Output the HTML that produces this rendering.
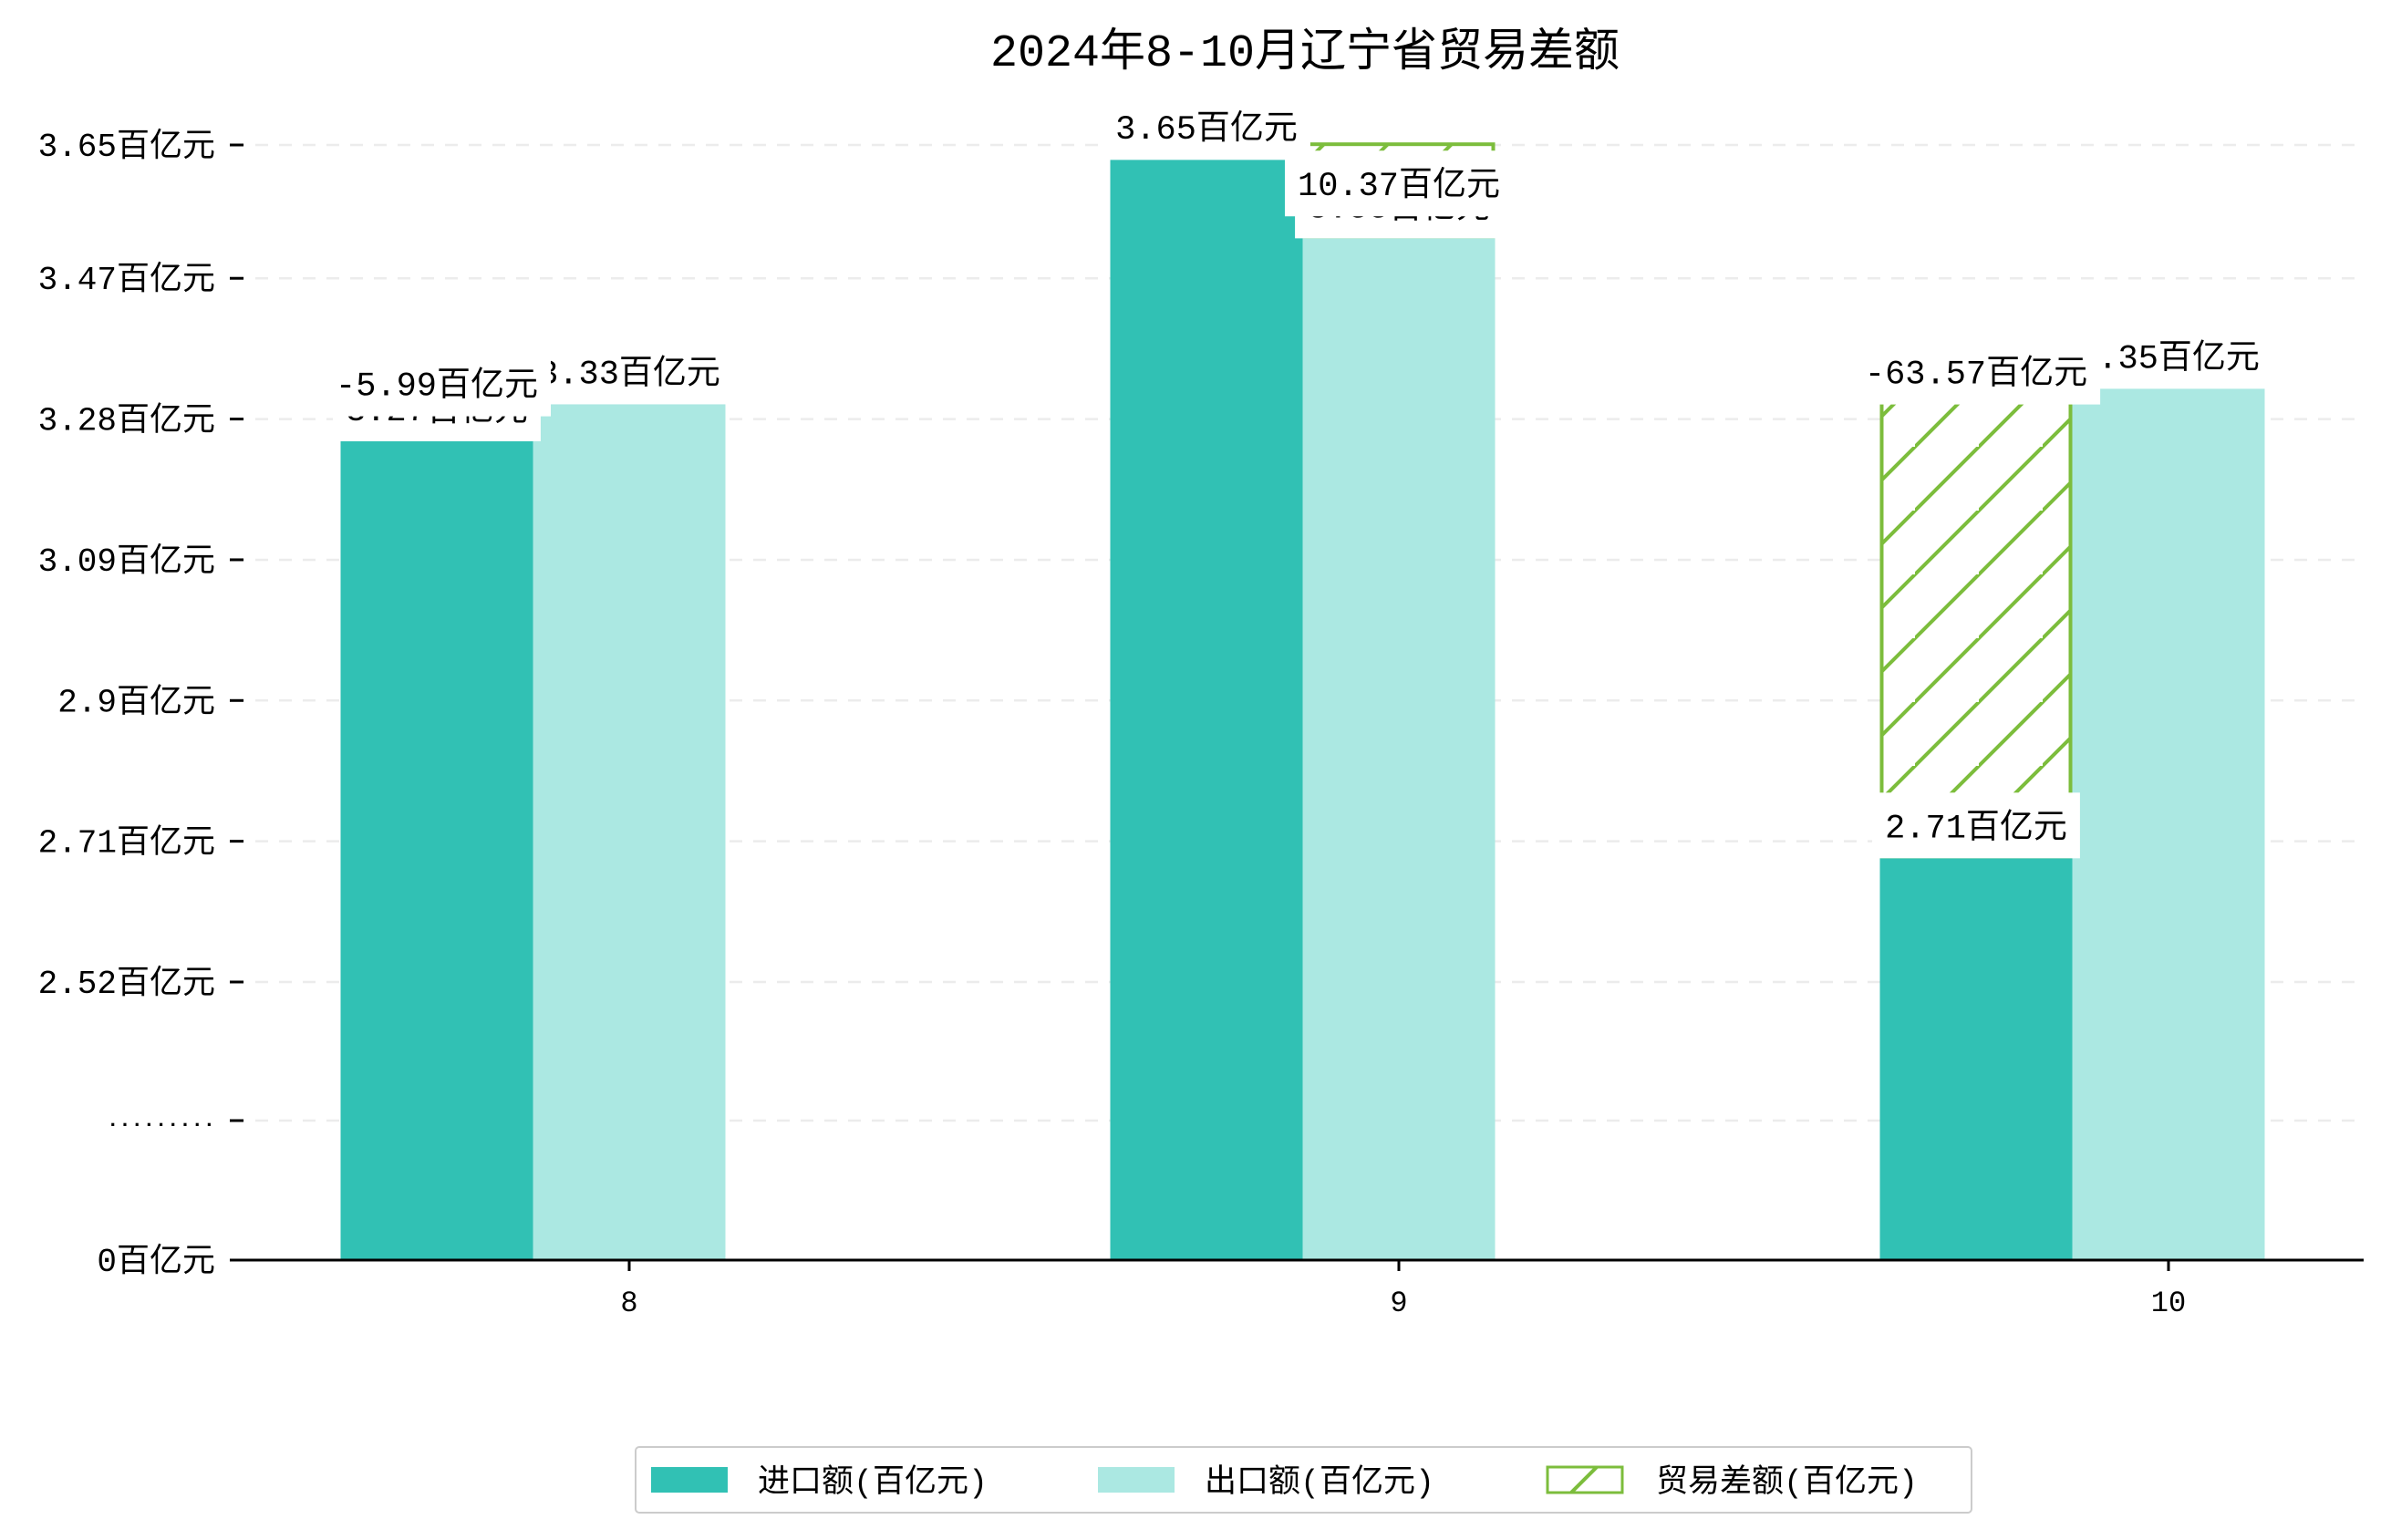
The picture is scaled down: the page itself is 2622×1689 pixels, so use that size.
<!DOCTYPE html>
<html><head><meta charset="utf-8"><style>
html,body{margin:0;padding:0;background:#fff;}
svg{display:block;}
text{font-family:"Liberation Mono","Noto Sans CJK SC",monospace;}
</style></head><body>
<svg id="chart" width="2622" height="1689" viewBox="0 0 2622 1689" xmlns="http://www.w3.org/2000/svg">
<defs>
<pattern id="hatch" patternUnits="userSpaceOnUse" width="70" height="70">
<rect width="70" height="70" fill="#fff"/>
<path d="M-10,80 L80,-10 M-80,80 L10,-10 M60,150 L150,60" stroke="#7cbd3c" stroke-width="4"/>
</pattern>
</defs>
<text x="1431" y="72" text-anchor="middle" font-size="50" fill="#000">2024年8-10月辽宁省贸易差额</text>
<g id="grid"></g><g id="bars"></g><g id="labels"></g><g id="axes"></g>
<g>
<rect x="697" y="1587" width="1465" height="72" rx="4" fill="#fff" stroke="#ccc" stroke-width="2"/>
<rect x="714" y="1609" width="84" height="28" fill="#31c1b4"/>
<text x="831" y="1636" font-size="35">进口额(百亿元)</text>
<rect x="1204" y="1609" width="84" height="28" fill="#abe8e2"/>
<text x="1321" y="1636" font-size="35">出口额(百亿元)</text>
<rect x="1697" y="1609" width="82" height="28" fill="url(#hatch)" stroke="#7cbd3c" stroke-width="3"/>
<text x="1816" y="1636" font-size="35">贸易差额(百亿元)</text>
</g>
</svg>
<script>
const categories = ['8', '9', '10'];
const imports = [3.25, 3.63, 2.687];
const exports = [3.30, 3.524, 3.321];
const importLabels = ['3.27百亿元', '3.65百亿元', '2.71百亿元'];
const exportLabels = ['3.33百亿元', '3.55百亿元', '3.35百亿元'];
const balanceLabels = ['-5.99百亿元', '10.37百亿元', '-63.57百亿元'];
const balanceSide = ['import', 'export', 'import'];
const balanceTop = [3.25, 3.651, 3.344];
const balanceBottom = [3.25, 3.524, 2.687];
const balanceLabelAt = [3.328, 3.598, 3.344];
const yTickValues = [0, 2.333, 2.52, 2.71, 2.9, 3.09, 3.28, 3.47, 3.65];
const yTickLabels = ['0百亿元', '.........', '2.52百亿元', '2.71百亿元', '2.9百亿元', '3.09百亿元', '3.28百亿元', '3.47百亿元', '3.65百亿元'];

const NS = 'http://www.w3.org/2000/svg';
const X0 = 254, X1 = 2592, BASE = 1382, BREAKY = 1229, BREAKV = 2.333;
const BW = 211, firstExportCenter = 690, groupStep = 844;
function y(v) {
  if (v <= BREAKV) return BASE - (v / BREAKV) * (BASE - BREAKY);
  return 1077 - (v - 2.52) * 918 / 1.13;
}
function cx(i, side) { const e = firstExportCenter + i * groupStep; return side === 'export' ? e : e - BW; }
function mk(tag, attrs, parent) { const el = document.createElementNS(NS, tag); for (const k in attrs) el.setAttribute(k, attrs[k]); parent.appendChild(el); return el; }

const grid = document.getElementById('grid'), bars = document.getElementById('bars'), labels = document.getElementById('labels'), axes = document.getElementById('axes');

yTickValues.forEach((v, i) => {
  const yy = y(v);
  if (v > 0) {
    const g = mk('line', {x1: X0, x2: X1, y1: yy, y2: yy, stroke: '#ececec', 'stroke-width': 2.5, 'stroke-dasharray': '14 12'}, grid);
    
    
  }
  const t = mk('line', {x1: 252, x2: 267, y1: yy, y2: yy, stroke: '#000', 'stroke-width': 3}, axes);
  
  
  const isBreak = yTickLabels[i].indexOf('百') < 0 && v > 0;
  const l = mk('text', {x: 236, y: yy + (isBreak ? 6 : 12), 'text-anchor': 'end', 'font-size': isBreak ? 22 : 36, 'font-weight': isBreak ? 'bold' : 'normal', fill: '#000'}, axes);
  
  
  l.textContent = yTickLabels[i];
});
const ax = mk('line', {x1: X0, x2: X1, y1: BASE, y2: BASE, stroke: '#000', 'stroke-width': 3}, axes);



categories.forEach((c, i) => {
  const hc = cx(i, balanceSide[i]);
  const ht = y(balanceTop[i]), hb = y(balanceBottom[i]);
  if (hb - ht > 0) {
    const h = mk('rect', {x: hc - BW / 2 + 2, y: ht, width: BW - 4, height: hb - ht, fill: 'url(#hatch)', stroke: '#7cbd3c', 'stroke-width': 4}, bars);
    
    
  }
});
categories.forEach((c, i) => {
  const ic = cx(i, 'import'), ec = cx(i, 'export');
  const b1 = mk('rect', {x: ic - BW / 2, y: y(imports[i]), width: BW, height: BASE - y(imports[i]), fill: '#31c1b4'}, bars);
  
  
  const b2 = mk('rect', {x: ec - BW / 2, y: y(exports[i]), width: BW, height: BASE - y(exports[i]), fill: '#abe8e2'}, bars);
  
  
  const xt = mk('line', {x1: ec, x2: ec, y1: BASE, y2: BASE + 12, stroke: '#000', 'stroke-width': 3}, axes);
  
  
  const xl = mk('text', {x: ec, y: 1438, 'text-anchor': 'middle', 'font-size': 32, fill: '#000'}, axes);
  
  
  xl.textContent = c;
});

function boxLabel(x, cy, txt, name) {
  const g = mk('g', {}, labels);
  
  
  const t = mk('text', {x: x, y: cy + 13, 'text-anchor': 'middle', 'font-size': 37, fill: '#000'}, g);
  t.textContent = txt;
  const w = t.getComputedTextLength();
  const r = mk('rect', {x: x - w / 2 - 14, y: cy - 36, width: w + 28, height: 72, fill: '#fff'}, g);
  g.insertBefore(r, t);
}
categories.forEach((c, i) => {
  boxLabel(cx(i, 'import'), y(imports[i]) - 36, importLabels[i], 'label-import-' + c);
  boxLabel(cx(i, 'export'), y(exports[i]) - 36, exportLabels[i], 'label-export-' + c);
  boxLabel(cx(i, balanceSide[i]), y(balanceLabelAt[i]), balanceLabels[i], 'label-balance-' + c);
});
</script>
</body></html>
